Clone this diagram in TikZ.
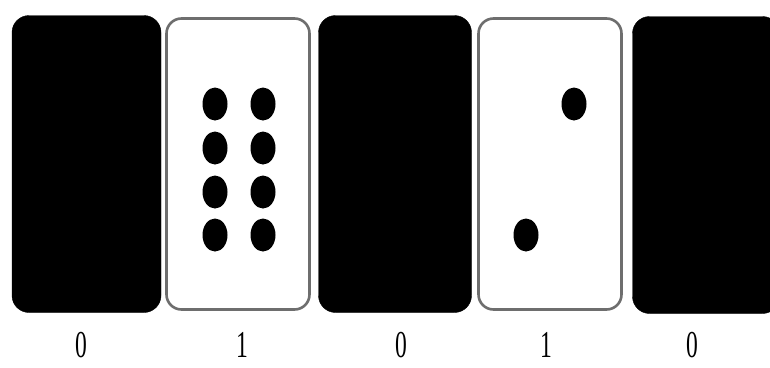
\documentclass[tikz,border=0pt]{standalone}
\usepackage{fontspec}
\setmainfont{Liberation Serif}
\usepackage{tikz,xcolor}
\usetikzlibrary{positioning}

\definecolor{edgegray}{HTML}{6E6E6E}
\tikzset{
  blackcard/.style={fill=black,draw=black,rounded corners=17pt,inner sep=0pt,
                    minimum width=#1,minimum height=297pt},
  whitecard/.style={fill=white,draw=edgegray,line width=2.6pt,rounded corners=15pt,
                    inner sep=0pt,minimum width=143pt,minimum height=291pt},
  bitlabel/.style={font=\fontsize{38}{38}\selectfont,xscale=0.62,transform shape,inner sep=0pt}
}

\begin{document}
\begin{tikzpicture}[x=1pt,y=-1pt]
  \useasboundingbox (0,0) rectangle (770,367);

  \node[blackcard=149pt] (card1) at (86.5,164) {};
  \node[whitecard] (card2) at (238,164) {};
  \node[blackcard=153pt] (card3) at (395,164) {};
  \node[whitecard] (card4) at (550,164) {};
  \node[blackcard=147pt] (card5) at (706,165) {};

  % dots
  \foreach \dx in {215,263}
    \foreach \dy in {104,148,192,235}
      \fill (\dx,\dy) ellipse (12.5pt and 16.5pt);
  \fill (574,104) ellipse (12.5pt and 16.5pt);
  \fill (526,235) ellipse (12.5pt and 16.5pt);

  \node[bitlabel] (bit1) at (81,345) {0};
  \node[bitlabel] (bit2) at (242,345) {1};
  \node[bitlabel] (bit3) at (401,345) {0};
  \node[bitlabel] (bit4) at (546,345) {1};
  \node[bitlabel] (bit5) at (692,345) {0};
\end{tikzpicture}
\end{document}
